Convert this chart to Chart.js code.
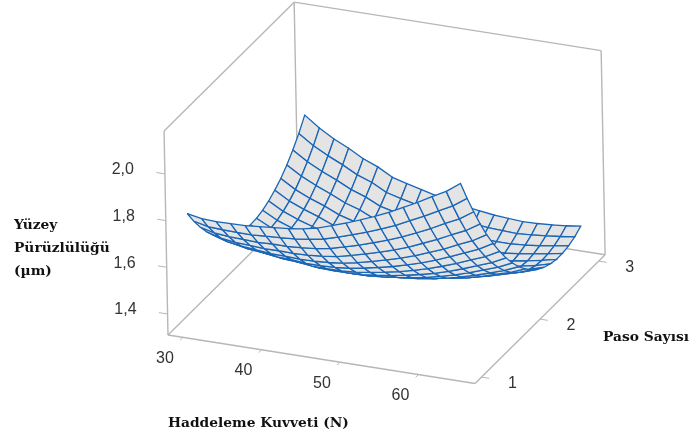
<!DOCTYPE html>
<html>
<head>
<meta charset="utf-8">
<script src="https://cdn.jsdelivr.net/npm/chart.js@4/dist/chart.umd.min.js"></script>
<style>
  html, body { margin: 0; padding: 0; background: #fff; }
  canvas { display: block; }
</style>
</head>
<body>
<canvas id="surfaceChart" width="691" height="439"></canvas>
<script>
// Mesh positions along the two horizontal axes
const forceGrid = [30, 31.84, 33.68, 35.53, 37.37, 39.21, 41.05, 42.89, 44.74, 46.58, 48.42, 50.26, 52.11, 53.95, 55.79, 57.63, 59.47, 61.32, 63.16, 65];
const passGrid = [1, 1.105, 1.211, 1.316, 1.421, 1.526, 1.632, 1.737, 1.842, 1.947, 2.053, 2.158, 2.263, 2.368, 2.474, 2.579, 2.684, 2.789, 2.895, 3];

// Surface heights: one row per passGrid entry, one value per forceGrid entry
const surfaceZ = [
  [1.813, 1.801, 1.798, 1.799, 1.800, 1.806, 1.811, 1.817, 1.826, 1.839, 1.859, 1.880, 1.903, 1.928, 1.955, 1.986, 2.017, 2.052, 2.084, 2.128],
  [1.755, 1.741, 1.737, 1.736, 1.735, 1.739, 1.742, 1.747, 1.755, 1.766, 1.784, 1.804, 1.825, 1.848, 1.873, 1.903, 1.932, 1.965, 1.996, 2.038],
  [1.703, 1.687, 1.681, 1.679, 1.676, 1.679, 1.679, 1.683, 1.689, 1.699, 1.716, 1.733, 1.753, 1.774, 1.798, 1.825, 1.853, 1.885, 1.914, 1.954],
  [1.657, 1.639, 1.631, 1.628, 1.623, 1.624, 1.623, 1.625, 1.630, 1.638, 1.653, 1.669, 1.687, 1.706, 1.728, 1.754, 1.780, 1.810, 1.838, 1.876],
  [1.617, 1.598, 1.588, 1.582, 1.576, 1.575, 1.572, 1.573, 1.577, 1.584, 1.596, 1.611, 1.627, 1.645, 1.665, 1.689, 1.713, 1.742, 1.768, 1.804],
  [1.583, 1.563, 1.551, 1.544, 1.536, 1.534, 1.528, 1.528, 1.530, 1.536, 1.547, 1.559, 1.573, 1.590, 1.608, 1.630, 1.654, 1.680, 1.706, 1.740],
  [1.555, 1.533, 1.520, 1.511, 1.501, 1.497, 1.489, 1.488, 1.489, 1.493, 1.502, 1.513, 1.525, 1.540, 1.557, 1.577, 1.599, 1.624, 1.648, 1.680],
  [1.533, 1.509, 1.494, 1.484, 1.472, 1.466, 1.456, 1.454, 1.454, 1.456, 1.464, 1.472, 1.483, 1.496, 1.511, 1.529, 1.550, 1.573, 1.596, 1.626],
  [1.517, 1.491, 1.475, 1.463, 1.449, 1.442, 1.430, 1.426, 1.424, 1.425, 1.431, 1.438, 1.447, 1.458, 1.472, 1.488, 1.507, 1.529, 1.550, 1.578],
  [1.507, 1.479, 1.461, 1.448, 1.432, 1.423, 1.409, 1.404, 1.401, 1.400, 1.404, 1.410, 1.417, 1.426, 1.438, 1.453, 1.470, 1.490, 1.510, 1.536],
  [1.503, 1.474, 1.454, 1.438, 1.420, 1.410, 1.394, 1.388, 1.384, 1.382, 1.384, 1.387, 1.393, 1.401, 1.411, 1.423, 1.439, 1.458, 1.476, 1.500],
  [1.505, 1.474, 1.452, 1.435, 1.415, 1.403, 1.385, 1.378, 1.373, 1.369, 1.369, 1.371, 1.375, 1.381, 1.389, 1.400, 1.414, 1.431, 1.448, 1.470],
  [1.513, 1.480, 1.457, 1.438, 1.416, 1.403, 1.383, 1.374, 1.367, 1.362, 1.360, 1.361, 1.363, 1.367, 1.374, 1.383, 1.395, 1.411, 1.426, 1.446],
  [1.527, 1.492, 1.467, 1.447, 1.423, 1.408, 1.386, 1.376, 1.368, 1.361, 1.358, 1.356, 1.357, 1.359, 1.364, 1.371, 1.382, 1.396, 1.410, 1.428],
  [1.547, 1.510, 1.484, 1.462, 1.436, 1.419, 1.395, 1.384, 1.375, 1.366, 1.361, 1.358, 1.357, 1.357, 1.361, 1.366, 1.375, 1.388, 1.400, 1.417],
  [1.571, 1.533, 1.505, 1.482, 1.454, 1.436, 1.409, 1.397, 1.386, 1.376, 1.370, 1.364, 1.361, 1.360, 1.362, 1.365, 1.374, 1.384, 1.396, 1.410],
  [1.603, 1.564, 1.534, 1.508, 1.479, 1.459, 1.430, 1.417, 1.405, 1.394, 1.385, 1.378, 1.373, 1.371, 1.371, 1.372, 1.379, 1.388, 1.398, 1.410],
  [1.641, 1.600, 1.568, 1.541, 1.510, 1.488, 1.458, 1.443, 1.430, 1.417, 1.406, 1.398, 1.391, 1.387, 1.385, 1.385, 1.390, 1.397, 1.406, 1.416],
  [1.685, 1.642, 1.609, 1.580, 1.547, 1.524, 1.491, 1.475, 1.460, 1.446, 1.434, 1.423, 1.415, 1.409, 1.406, 1.403, 1.407, 1.413, 1.420, 1.428],
  [1.738, 1.692, 1.655, 1.625, 1.590, 1.565, 1.530, 1.513, 1.497, 1.481, 1.467, 1.455, 1.445, 1.437, 1.432, 1.428, 1.430, 1.434, 1.440, 1.448]
];

const forceTicks = [30, 40, 50, 60];
const passTicks = [1, 2, 3];
const zTicks = [1.4, 1.6, 1.8, 2.0];
const zTickLabels = ['1,4', '1,6', '1,8', '2,0'];

// Box limits of the three axes
const forceMin = 28.09, forceMax = 67.2;
const passMin = 0.89, passMax = 3.11;
const zMin = 1.31, zMax = 2.184;

// Oblique projection of (force, pass, z) onto the chart plane, which is sized like the page
function project(force, pass, z) {
  return {
    x: 168 + (force - forceMin) * 7.85 + (pass - passMin) * 58.6 - (z - zMin) * 4.5,
    y: 335 + (force - forceMin) * 1.24 - (pass - passMin) * 58 - (z - zMin) * 233.5
  };
}

const frameColor = '#b7b7b7';
const meshColor = '#1a66b6';
const meshFill = '#e4e4e4';
const datasets = [];

function addLine(points, color, width) {
  datasets.push({ data: points, borderColor: color, borderWidth: width, fill: false });
}

// === BOX ===
const boxEdges = [
  [[forceMin, passMin, zMin], [forceMax, passMin, zMin]],
  [[forceMax, passMin, zMin], [forceMax, passMax, zMin]],
  [[forceMin, passMin, zMin], [forceMin, passMax, zMin]],
  [[forceMin, passMax, zMin], [forceMax, passMax, zMin]],
  [[forceMin, passMin, zMin], [forceMin, passMin, zMax]],
  [[forceMin, passMax, zMin], [forceMin, passMax, zMax]],
  [[forceMax, passMax, zMin], [forceMax, passMax, zMax]],
  [[forceMin, passMin, zMax], [forceMin, passMax, zMax]],
  [[forceMin, passMax, zMax], [forceMax, passMax, zMax]]
];
boxEdges.forEach(e => addLine([project(...e[0]), project(...e[1])], frameColor, 1.4));

// === TICKS ===
forceTicks.forEach(f => addLine([project(f, passMin, zMin), project(f, passMin - 0.05, zMin)], frameColor, 1));
passTicks.forEach(p => addLine([project(forceMax, p, zMin), project(forceMax + 1, p, zMin)], frameColor, 1));
zTicks.forEach(z => addLine([project(forceMin, passMin, z), project(forceMin - 1.1, passMin, z)], frameColor, 1));

// === SURFACE === far rows first, so nearer cells paint over them
for (let j = passGrid.length - 2; j >= 0; j--) {
  for (let i = 0; i < forceGrid.length - 1; i++) {
    datasets.push({
      data: [
        project(forceGrid[i], passGrid[j], surfaceZ[j][i]),
        project(forceGrid[i + 1], passGrid[j], surfaceZ[j][i + 1]),
        project(forceGrid[i + 1], passGrid[j + 1], surfaceZ[j + 1][i + 1]),
        project(forceGrid[i], passGrid[j + 1], surfaceZ[j + 1][i]),
        project(forceGrid[i], passGrid[j], surfaceZ[j][i])
      ],
      borderColor: meshColor,
      borderWidth: 1.3,
      backgroundColor: meshFill,
      fill: 'shape'
    });
  }
}

// Chart.js paints lower order last
datasets.forEach((d, n) => { d.order = -n; });

// Tick labels and axis titles
const textPlugin = {
  id: 'axisText',
  afterDraw(chart) {
    const ctx = chart.ctx, sx = chart.scales.x, sy = chart.scales.y;
    const put = (p, dx, dy, text) => ctx.fillText(text, sx.getPixelForValue(p.x) + dx, sy.getPixelForValue(p.y) + dy);
    ctx.save();
    ctx.textBaseline = 'middle';
    ctx.fillStyle = '#333';
    ctx.font = '16px "Liberation Sans"';
    ctx.textAlign = 'center';
    forceTicks.forEach(f => put(project(f, passMin, zMin), -18, 21, String(f)));
    passTicks.forEach(p => put(project(forceMax, p, zMin), 31, 6, String(p)));
    ctx.textAlign = 'right';
    zTicks.forEach((z, n) => put(project(forceMin, passMin, z), -31, -4, zTickLabels[n]));

    ctx.fillStyle = '#111';
    ctx.font = 'bold 13.8px "DejaVu Serif"';
    ctx.textAlign = 'left';
    ctx.fillText('Yüzey', 14, 225);
    ctx.fillText('Pürüzlülüğü', 14, 248);
    ctx.fillText('(µm)', 14, 271);
    ctx.fillText('Haddeleme Kuvveti (N)', 168, 423);
    ctx.fillText('Paso Sayısı', 603, 337);
    ctx.restore();
  }
};

new Chart(document.getElementById('surfaceChart'), {
  type: 'line',
  data: { datasets: datasets },
  options: {
    responsive: false,
    animation: false,
    events: [],
    layout: { padding: 0 },
    elements: { point: { radius: 0 }, line: { tension: 0 } },
    plugins: { legend: { display: false }, tooltip: { enabled: false }, title: { display: false } },
    scales: {
      x: { type: 'linear', min: 0, max: 691, display: false },
      y: { type: 'linear', min: 0, max: 439, reverse: true, display: false }
    }
  },
  plugins: [textPlugin]
});
</script>
</body>
</html>
